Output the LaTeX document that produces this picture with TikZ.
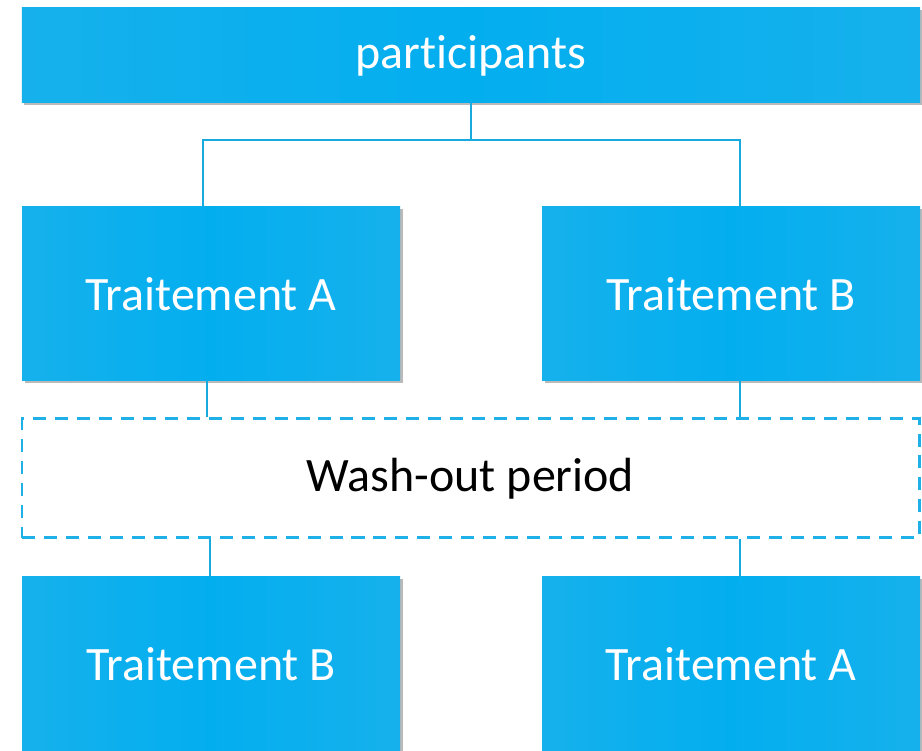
\documentclass[tikz,border=0pt]{standalone}
\usepackage{fontspec}
\setmainfont{Carlito}[Ligatures=NoCommon]
\usetikzlibrary{positioning}
\usetikzlibrary{shadows}
\definecolor{boxblue}{RGB}{3,174,239}
\definecolor{boxedge}{RGB}{22,177,236}
\definecolor{linkblue}{RGB}{24,170,222}
\definecolor{dashblue}{RGB}{30,176,230}

\begin{document}
\begin{tikzpicture}[
  block/.style={rectangle,inner sep=0pt,minimum width=7.56cm,minimum height=3.48cm,
    left color=boxedge,right color=boxedge,middle color=boxblue,draw=none,
    text=white,font=\fontsize{27.3}{32}\selectfont,
    drop shadow={shadow xshift=0.05cm,shadow yshift=-0.05cm,opacity=0.45,fill=black!60}},
  link/.style={draw=linkblue,line width=1.1pt},
  washbox/.style={rectangle,inner sep=0pt,minimum width=17.94cm,minimum height=2.38cm,
    draw=dashblue,line width=1.7pt,dash pattern=on 7.4pt off 5.1pt,
    text=black,font=\fontsize{27.3}{32}\selectfont}]
\clip (0,0) rectangle (18.44,15.02);
\fill[white] (0,0) rectangle (18.44,15.02);

\node[block,minimum width=17.96cm,minimum height=1.90cm] (part) at (9.42,13.91) {participants};
\node[block] (tA1) at (4.22,9.14) {Traitement A};
\node[block] (tB1) at (14.62,9.14) {Traitement B};
\node[washbox] (wash) at (9.41,5.45) {\raisebox{-0.1cm}{Wash-out period}};
\node[block] (tB2) at (4.22,1.74) {Traitement B};
\node[block] (tA2) at (14.62,1.74) {Traitement A};

% split below participants
\coordinate (split) at (9.42,12.22);
\draw[link] (part.south) -- (split);
\draw[link] (split) -| ([xshift=-0.16cm]tA1.north);
\draw[link] (split) -| ([xshift=0.18cm]tB1.north);

% through the wash-out period
\draw[link] ([xshift=-0.08cm]tA1.south) -- ([xshift=-0.08cm]tA1.south |- wash.north);
\draw[link] ([xshift=0.18cm]tB1.south) -- ([xshift=0.18cm]tB1.south |- wash.north);
\draw[link] ([xshift=-0.02cm]tB2.north |- wash.south) -- ([xshift=-0.02cm]tB2.north);
\draw[link] ([xshift=0.18cm]tA2.north |- wash.south) -- ([xshift=0.18cm]tA2.north);

\end{tikzpicture}
\end{document}
